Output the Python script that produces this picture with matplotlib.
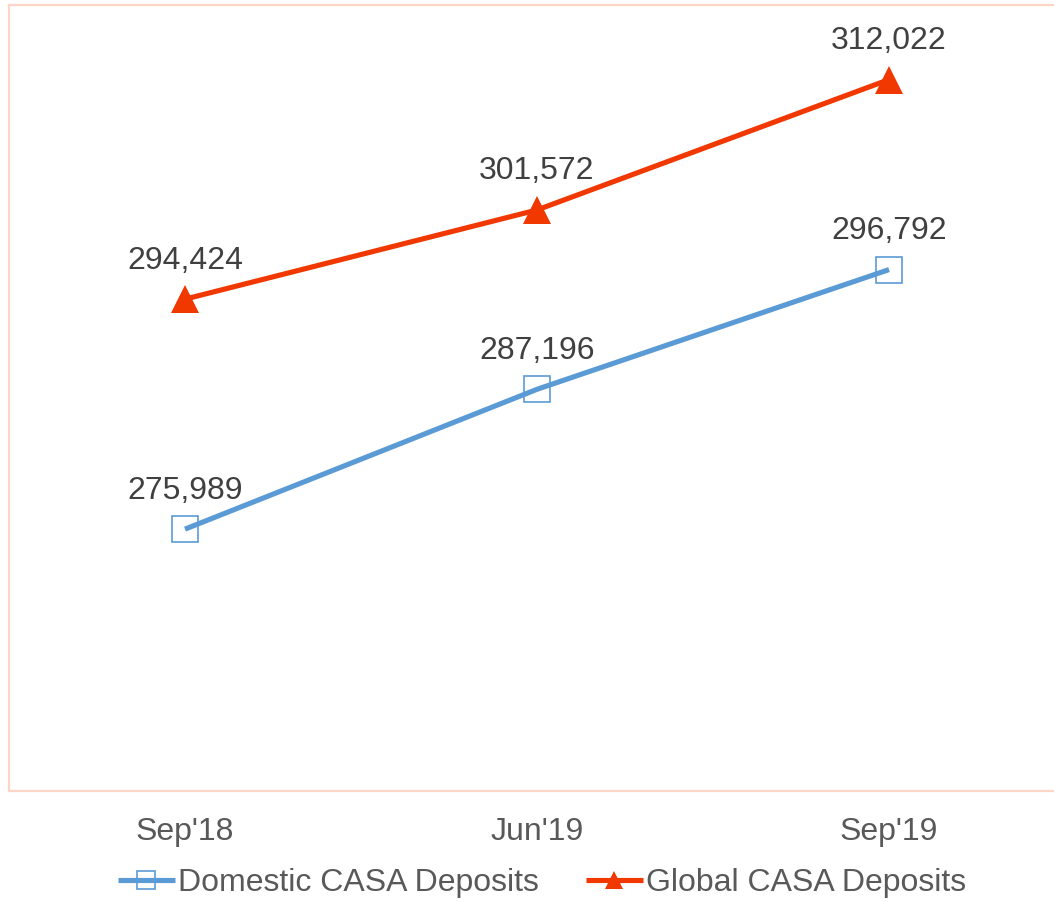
import matplotlib
matplotlib.use("Agg")
import matplotlib.pyplot as plt

plt.rcParams['font.family'] = ['Liberation Sans', 'DejaVu Sans']

categories = ["Sep'18", "Jun'19", "Sep'19"]
domestic = [275989, 287196, 296792]
global_casa = [294424, 301572, 312022]
series_names = ["Domestic CASA Deposits", "Global CASA Deposits"]

blue = '#5B9BD5'
red = '#F03800'
border = '#FDD5C8'
FS = 23

fig = plt.figure(figsize=(10.54, 9.02), dpi=100)
ax = fig.add_axes([9/1054, 1-791/902, (1065-9)/1054, (791-5)/902])

x = list(range(len(categories)))
ax.plot(x, domestic, color=blue, lw=3.7, marker='s', markersize=18.5,
        markerfacecolor='none', markeredgecolor=blue, markeredgewidth=1.2,
        label=series_names[0], solid_capstyle='butt', zorder=3)
ax.plot(x, global_casa, color=red, lw=3.7, marker='^', markersize=20,
        markerfacecolor=red, markeredgecolor=red, markeredgewidth=0,
        label=series_names[1], solid_capstyle='butt', zorder=3)

for xs, ys in ((x, domestic), (x, global_casa)):
    for xi, yi in zip(xs, ys):
        ax.annotate(f"{yi:,}", (xi, yi), xytext=(0, 22), textcoords='offset points',
                    ha='center', va='baseline', fontsize=FS, color='#404040')

ax.set_xlim(-0.5, 2.5)
ax.set_ylim(255000, 318000)
ax.set_xticks(x)
ax.set_xticklabels(categories, fontsize=FS, color='#595959')
ax.tick_params(axis='x', length=0, pad=19)
ax.set_yticks([])
for s in ax.spines.values():
    s.set_color(border)
    s.set_linewidth(1.6)

leg = fig.legend(loc='center', bbox_to_anchor=(542/1054, 1-883/902), ncol=2,
                 frameon=False, fontsize=FS, handlelength=1.8, handletextpad=0.1,
                 columnspacing=1.45, borderaxespad=0, borderpad=0)
for t in leg.get_texts():
    t.set_color('#595959')
for h in leg.legend_handles:
    h.set_markersize(13)

fig.savefig('out.png', dpi=100)
